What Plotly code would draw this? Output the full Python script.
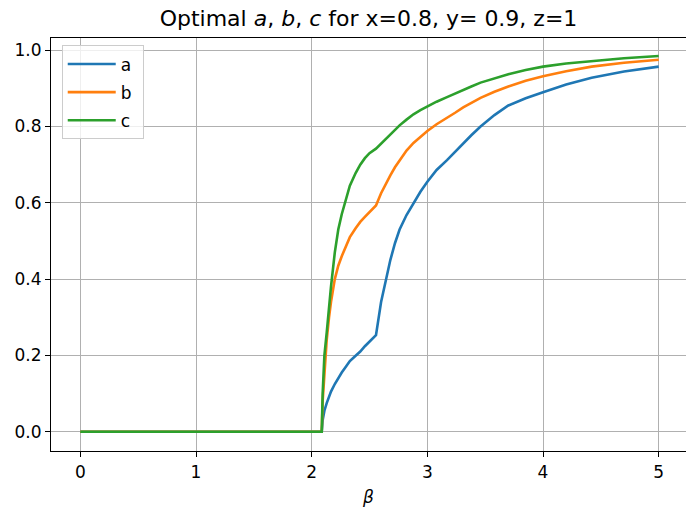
import plotly.graph_objects as go

beta = [0, 2.087, 2.095, 2.11, 2.13, 2.15, 2.167, 2.2, 2.23, 2.26, 2.3, 2.33, 2.38, 2.42, 2.46,
        2.5, 2.556, 2.6, 2.64, 2.68, 2.72, 2.76, 2.82, 2.88, 2.94, 3.0, 3.08, 3.17, 3.24,
        3.31, 3.38, 3.46, 3.58, 3.7, 3.85, 4.0, 4.2, 4.42, 4.7, 5.0]
a_vals = [0, 0, 0.03, 0.055, 0.075, 0.092, 0.105, 0.125, 0.141, 0.155, 0.172, 0.185, 0.199,
          0.21, 0.224, 0.235, 0.253, 0.34, 0.40, 0.45, 0.494, 0.53, 0.568, 0.60, 0.629,
          0.655, 0.686, 0.712, 0.734, 0.756, 0.777, 0.80, 0.83, 0.855, 0.874, 0.89, 0.91,
          0.928, 0.944, 0.957]
b_vals = [0, 0, 0.08, 0.16, 0.24, 0.30, 0.34, 0.40, 0.435, 0.46, 0.49, 0.51, 0.533,
          0.55, 0.563, 0.575, 0.593, 0.625, 0.65, 0.672, 0.693, 0.712, 0.737, 0.757, 0.773,
          0.788, 0.806, 0.822, 0.836, 0.85, 0.862, 0.875, 0.891, 0.905, 0.92, 0.932, 0.945,
          0.957, 0.967, 0.975]
c_vals = [0, 0, 0.10, 0.20, 0.26, 0.33, 0.38, 0.47, 0.53, 0.57, 0.615, 0.645, 0.678,
          0.70, 0.717, 0.73, 0.742, 0.755, 0.768, 0.78, 0.792, 0.803, 0.818, 0.832, 0.843,
          0.853, 0.865, 0.877, 0.887, 0.896, 0.905, 0.915, 0.927, 0.937, 0.948, 0.957, 0.965,
          0.972, 0.979, 0.985]
names = ["a", "b", "c"]
colors = ["#1f77b4", "#ff7f0e", "#2ca02c"]
xticks = [0, 1, 2, 3, 4, 5]
yticks = [0.0, 0.2, 0.4, 0.6, 0.8, 1.0]
ytick_text = ["0.0", "0.2", "0.4", "0.6", "0.8", "1.0"]

fig = go.Figure()
for name, vals, col in zip(names, [a_vals, b_vals, c_vals], colors):
    fig.add_trace(go.Scatter(x=beta, y=vals, mode="lines", name=name + "\u00a0",
                             legendgroup=name,
                             line=dict(color=col, width=2.6)))

font = dict(family="DejaVu Sans", size=17, color="black")
axis_common = dict(showline=True, linecolor="black", linewidth=1.2, mirror=True,
                   ticks="outside", ticklen=5, tickwidth=1.2, tickcolor="black",
                   showgrid=True, gridcolor="#b0b0b0", gridwidth=1.2,
                   zeroline=False, tickfont=font)

fig.update_layout(
    width=686, height=509,
    margin=dict(l=51, r=0, t=38, b=58),
    paper_bgcolor="white", plot_bgcolor="white",
    font=font,
    title=dict(text="Optimal <i>a</i>, <i>b</i>, <i>c</i> for x=0.8, y= 0.9, z=1",
               x=0.5, xref="paper", xanchor="center",
               y=1 - 18 / 509, yref="container", yanchor="middle",
               font=dict(family="DejaVu Sans", size=22, color="black")),
    xaxis=dict(range=[-0.2535, 5.236], tickvals=xticks,
               title=dict(text="<i>β</i>", font=font, standoff=10),
               **axis_common),
    yaxis=dict(range=[-0.0506, 1.032], tickvals=yticks, ticktext=ytick_text,
               **axis_common),
    legend=dict(x=0.0169, y=0.982, xanchor="left", yanchor="top",
                bgcolor="rgba(255,255,255,0.8)", bordercolor="#cccccc",
                borderwidth=1, font=dict(family="DejaVu Sans", size=17, color="black"),
                tracegroupgap=3, traceorder="grouped", itemwidth=48),
    showlegend=True,
)

fig.write_html("out.html", config={"displayModeBar": False},
               post_script="document.body.style.margin='0';")
